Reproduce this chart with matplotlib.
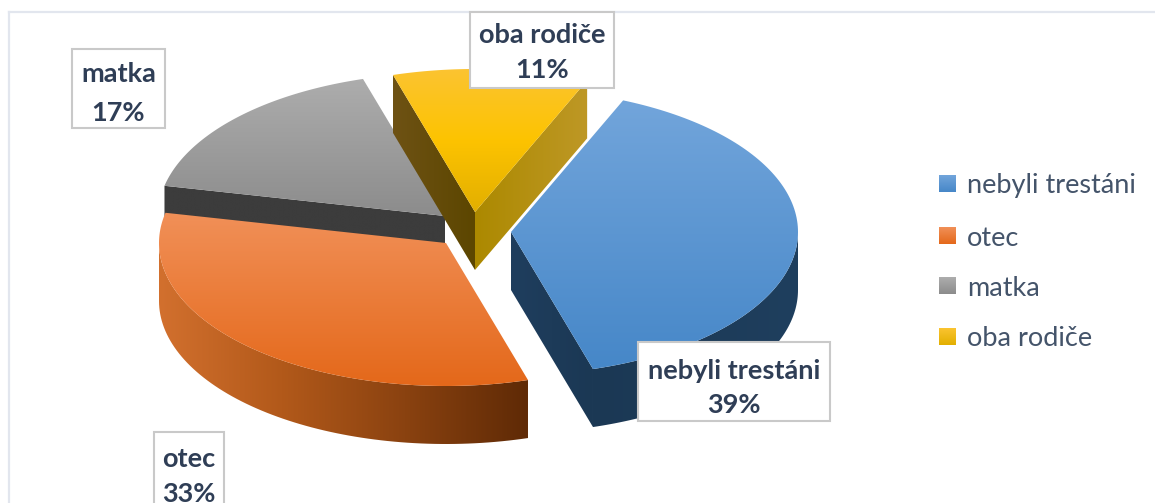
import numpy as np
import matplotlib
matplotlib.use('Agg')
import matplotlib.pyplot as plt
from matplotlib.colors import LinearSegmentedColormap
from matplotlib.patches import Polygon, Rectangle

# data
categories = ['nebyli trestáni', 'otec', 'matka', 'oba rodiče']
values = [39, 33, 17, 11]
percent_labels = ['39%', '33%', '17%', '11%']

# layout in pixels of the 1155x503 picture
W, H = 1155, 503
A, B = 287, 143      # ellipse radii
DEPTH = 58
START = 23           # first slice angle, clockwise from top
apex = [(511, 232), (446, 243), (445, 216), (475, 212)]

top_cols = [('#72A5DB', '#4687C8'), ('#F19058', '#E4681A'),
            ('#ADADAD', '#8C8C8C'), ('#FBC431', '#E2AF00')]
label_boxes = [(638, 342, 830, 421), (154, 432, 224, 520),
               (72, 49, 165, 128), (470, 12, 614, 88)]
label_text_y = [(371, 405), (459, 494), (74, 113), (35, 70)]
TEXT = '#2F3E56'

fig = plt.figure(figsize=(W / 100, H / 100), dpi=100)
ax = fig.add_axes([0, 0, 1, 1])
ax.set_xlim(0, W)
ax.set_ylim(H, 0)
ax.axis('off')


def ell(c, t):
    t = np.radians(t)
    return np.column_stack([c[0] + A * np.sin(t), c[1] - B * np.cos(t)])


def gradient(poly, cols, z, horizontal=False):
    # paint a colour gradient clipped to a polygon
    poly = np.asarray(poly)
    x0, x1 = poly[:, 0].min(), poly[:, 0].max()
    y0, y1 = poly[:, 1].min(), poly[:, 1].max()
    cmap = LinearSegmentedColormap.from_list('g', list(cols))
    g = np.linspace(0, 1, 256)
    g = g[None, :] if horizontal else g[:, None]
    im = ax.imshow(g, cmap=cmap, extent=(x0, x1, y1, y0), aspect='auto',
                   zorder=z, interpolation='bilinear')
    patch = Polygon(poly, closed=True, transform=ax.transData)
    im.set_clip_path(patch)


def band(c, t0, t1):
    arc = ell(c, np.linspace(t0, t1, 80))
    return np.vstack([arc, arc[::-1] + [0, DEPTH]])


def cut_face(c, t):
    p = ell(c, np.array([t]))[0]
    return [c, p, p + [0, DEPTH], np.array(c) + [0, DEPTH]]


def top(i, t0, t1):
    return np.vstack([[apex[i]], ell(apex[i], np.linspace(t0, t1, 120))])


edges = START + np.concatenate([[0], np.cumsum(values)]) * 3.6

# back to front: matka, oba rodice, otec, nebyli
gradient(cut_face(apex[2], edges[2]), ('#3C3C3C', '#3C3C3C'), 2)
gradient(top(2, edges[2], edges[3]), top_cols[2], 3)

gradient(cut_face(apex[3], edges[3]), ('#6E5214', '#5C4600'), 4, horizontal=True)
gradient(cut_face(apex[3], edges[4]), ('#AC8900', '#BE9826'), 4, horizontal=True)
gradient(top(3, edges[3], edges[4]), (top_cols[3][0], '#FDC300', top_cols[3][1]), 5)

gradient(band(apex[1], edges[1], 270), ('#D2702E', '#B2591A', '#8A4210', '#5F2A06'),
         6, horizontal=True)
gradient(top(1, edges[1], edges[2]), top_cols[1], 7)

gradient(cut_face(apex[0], edges[1]), ('#1F3E5E', '#1B3854'), 8, horizontal=True)
gradient(band(apex[0], 90, edges[1]), ('#1B3854', '#1F3F5E'), 8, horizontal=True)
gradient(top(0, edges[0], edges[1]), top_cols[0], 9)

# chart frame
ax.plot([8.5, 8.5], [H, 11.5], color='#E2E6EE', lw=1.6, zorder=1)
ax.plot([8.5, W], [11.5, 11.5], color='#E2E6EE', lw=1.6, zorder=1)

# data labels
for cat, pct, (x0, y0, x1, y1), (ty0, ty1) in zip(categories, percent_labels,
                                                  label_boxes, label_text_y):
    ax.add_patch(Rectangle((x0, y0), x1 - x0, y1 - y0, facecolor='white',
                           edgecolor='#C9C9C9', lw=1.5, zorder=10))
    cx = (x0 + x1) / 2
    ax.text(cx, ty0, cat, ha='center', va='center', color=TEXT,
            family='Lato', fontweight='bold', fontsize=19.5, zorder=11)
    ax.text(cx, ty1, pct, ha='center', va='center', color=TEXT,
            family='Lato', fontweight='bold', fontsize=19.5, zorder=11)

# legend
legend_y = [184, 236, 286, 337]
for cat, cols, y in zip(categories, top_cols, legend_y):
    gradient([(939, y - 9), (956, y - 9), (956, y + 8), (939, y + 8)], cols, 10)
    ax.text(967, y + 2, cat, ha='left', va='center', color='#44546A',
            family='Lato', fontsize=19.5, zorder=11)

ax.set_xlim(0, W)
ax.set_ylim(H, 0)
fig.savefig('out.png', dpi=100, facecolor='white')
